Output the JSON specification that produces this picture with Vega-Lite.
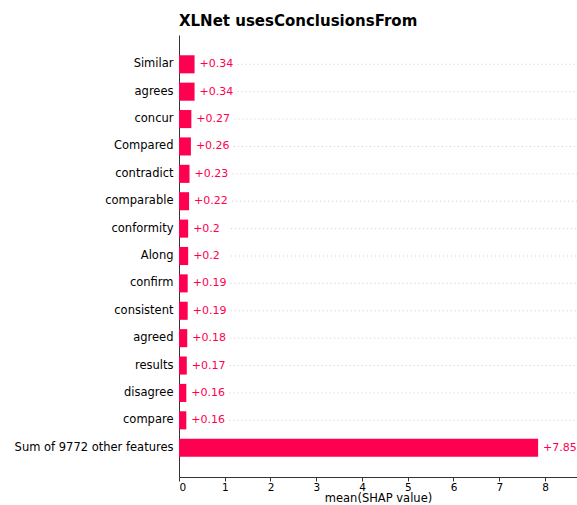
{
  "$schema": "https://vega.github.io/schema/vega-lite/v6.json",
  "autosize": {"type": "none"},
  "padding": {"left": 179, "top": 35, "right": 0, "bottom": 28},
  "width": 398,
  "height": 442,
  "background": "white",
  "title": {"text": "XLNet usesConclusionsFrom", "anchor": "start", "frame": "group", "font": "DejaVu Sans", "fontSize": 15, "fontWeight": "bold", "color": "#000000", "offset": 6},
  "config": {"view": {"stroke": null}, "font": "DejaVu Sans"},
  "data": {"values": [
    {"feature": "Similar", "value": 0.34},
    {"feature": "agrees", "value": 0.34},
    {"feature": "concur", "value": 0.27},
    {"feature": "Compared", "value": 0.26},
    {"feature": "contradict", "value": 0.23},
    {"feature": "comparable", "value": 0.22},
    {"feature": "conformity", "value": 0.2},
    {"feature": "Along", "value": 0.2},
    {"feature": "confirm", "value": 0.19},
    {"feature": "consistent", "value": 0.19},
    {"feature": "agreed", "value": 0.18},
    {"feature": "results", "value": 0.17},
    {"feature": "disagree", "value": 0.16},
    {"feature": "compare", "value": 0.16},
    {"feature": "Sum of 9772 other features", "value": 7.85}
  ]},
  "encoding": {
    "y": {"field": "feature", "type": "nominal", "sort": null,
      "scale": {"paddingInner": 0.34, "paddingOuter": 0.74},
      "axis": {"title": null, "ticks": false, "labelFontSize": 11.5, "labelColor": "#000000", "labelPadding": 6, "domainColor": "#333333", "grid": false, "labelFont": "DejaVu Sans"}}
  },
  "layer": [
    {
      "mark": {"type": "rule", "strokeDash": [1, 3], "color": "#cccccc", "strokeWidth": 1, "xOffset": 43},
      "encoding": {
        "x": {"field": "value", "type": "quantitative"},
        "x2": {"datum": 8.7}
      }
    },
    {
      "mark": {"type": "bar", "color": "#ff0051"},
      "encoding": {
        "x": {"field": "value", "type": "quantitative",
          "scale": {"domain": [0, 8.7], "nice": false},
          "axis": {"title": "mean(SHAP value)", "titleFontSize": 11.5, "titleFontWeight": "normal", "titleColor": "#000000", "titlePadding": 0, "labelPadding": 1, "values": [0,1,2,3,4,5,6,7,8], "format": "d", "labelFontSize": 10.5, "labelColor": "#000000", "tickColor": "#333333", "tickSize": 4, "domainColor": "#333333", "grid": false, "labelFont": "DejaVu Sans", "titleFont": "DejaVu Sans"}}
      }
    },
    {
      "mark": {"type": "text", "align": "left", "dx": 5, "fontSize": 11, "color": "#ff0051", "font": "DejaVu Sans"},
      "encoding": {
        "x": {"field": "value", "type": "quantitative"},
        "text": {"field": "value", "type": "quantitative", "format": "+.2~f"}
      }
    }
  ]
}
